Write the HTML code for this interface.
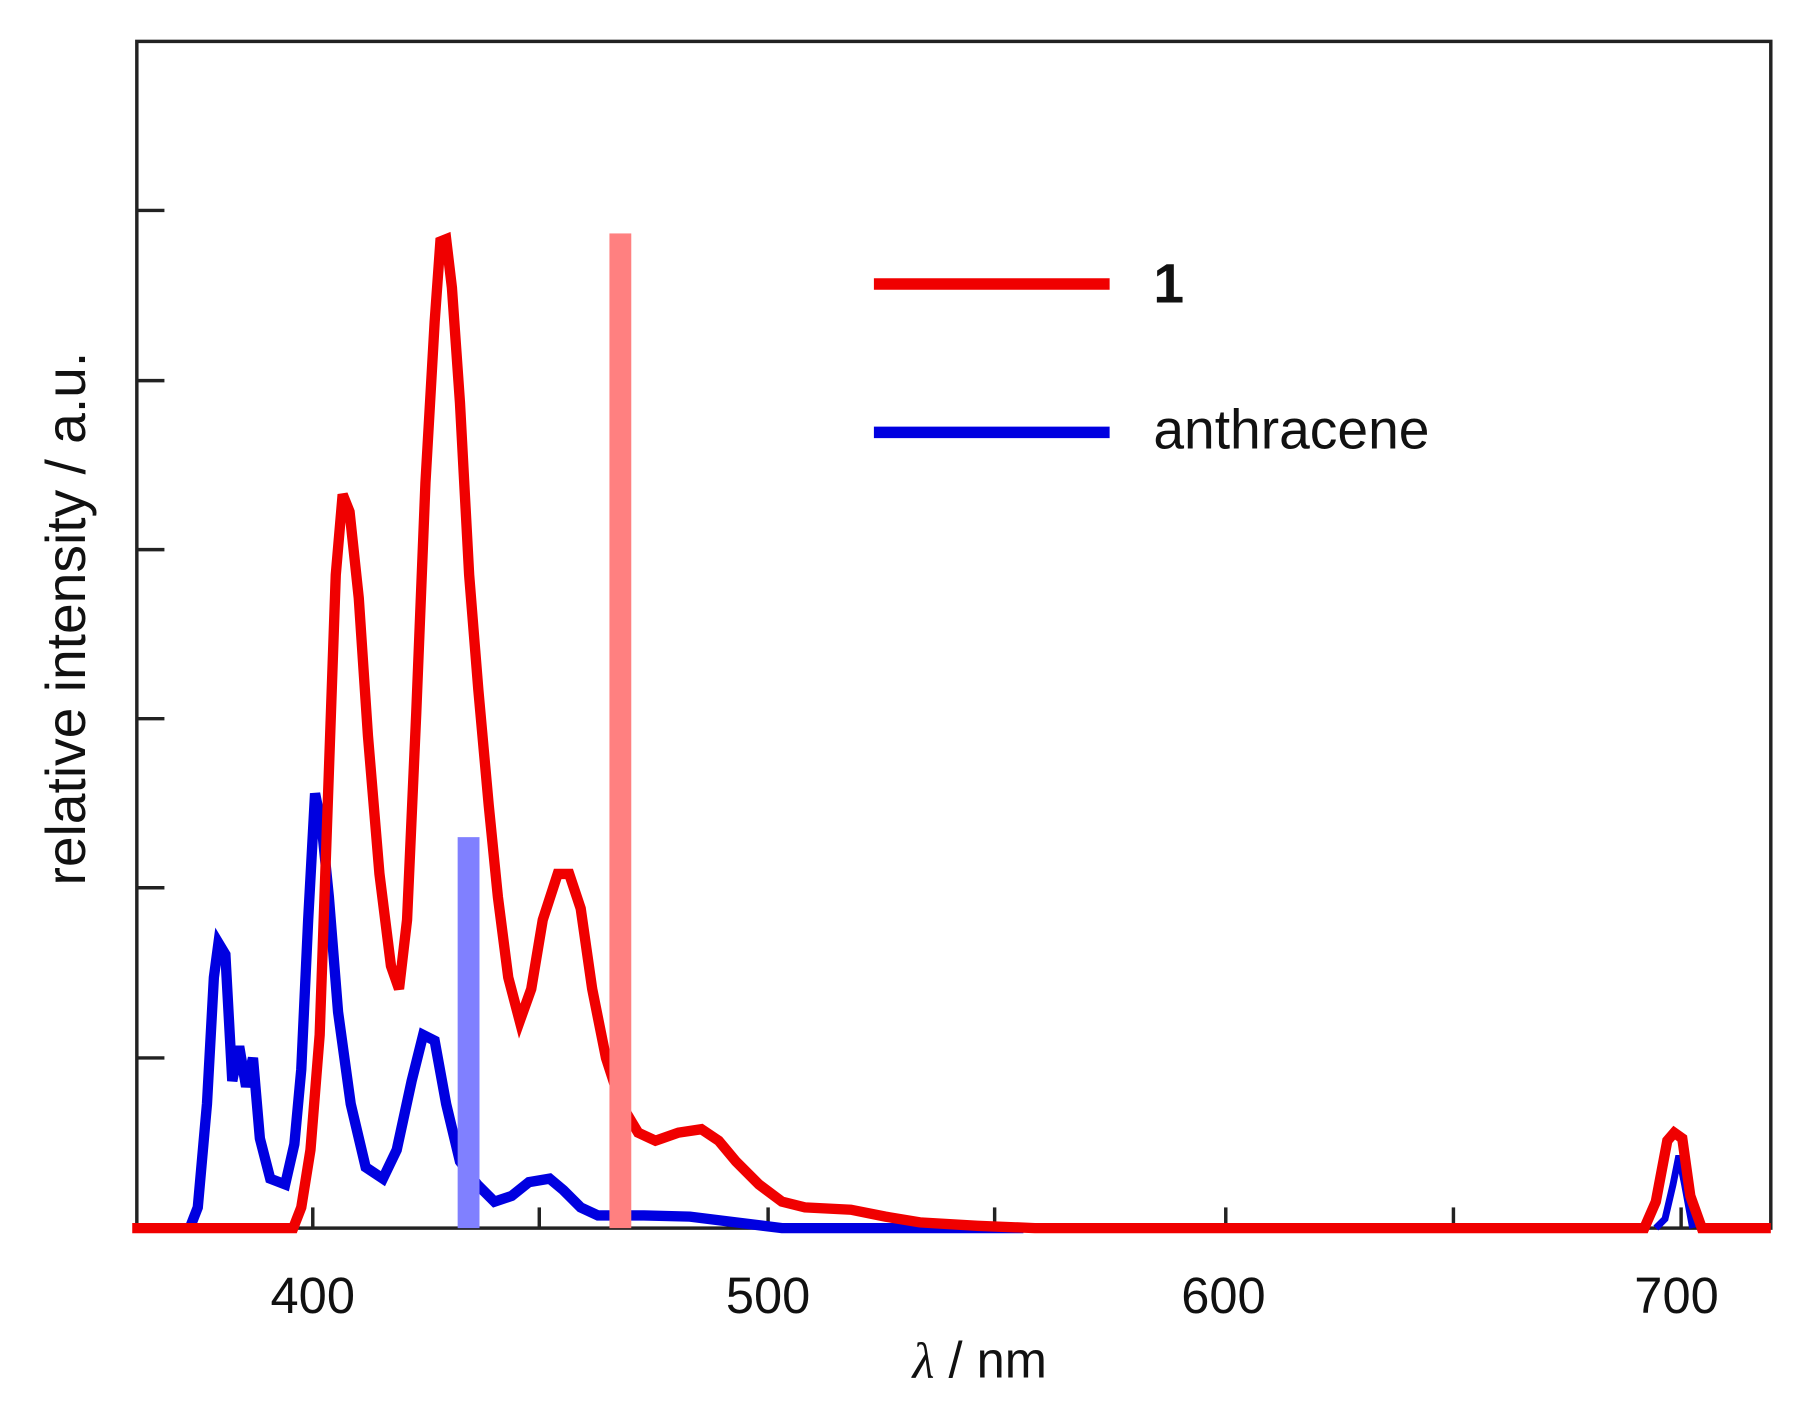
<!DOCTYPE html>
<html><head><meta charset="utf-8"><style>
html,body{margin:0;padding:0;background:#fff;}
svg{display:block;}
</style></head><body>
<svg width="1803" height="1419" viewBox="0 0 1568 1234" preserveAspectRatio="none" xmlns="http://www.w3.org/2000/svg">
<rect width="1568" height="1234" fill="#fff"/>
<rect x="119" y="36" width="1421" height="1032" fill="none" stroke="#222" stroke-width="3"/>
<g stroke="#222" stroke-width="3">
<line x1="119" y1="183" x2="143" y2="183"/><line x1="119" y1="331" x2="143" y2="331"/>
<line x1="119" y1="478" x2="143" y2="478"/><line x1="119" y1="625" x2="143" y2="625"/>
<line x1="119" y1="772" x2="143" y2="772"/><line x1="119" y1="920" x2="143" y2="920"/>
<line x1="272" y1="1068" x2="272" y2="1050"/><line x1="469" y1="1068" x2="469" y2="1050"/>
<line x1="668" y1="1068" x2="668" y2="1050"/><line x1="865" y1="1068" x2="865" y2="1050"/>
<line x1="1066" y1="1068" x2="1066" y2="1050"/><line x1="1264" y1="1068" x2="1264" y2="1050"/>
<line x1="1462" y1="1068" x2="1462" y2="1050"/>
</g>
<polyline fill="none" stroke="#0000e0" stroke-width="9" points="165,1068 172,1050 180,960 186,850 190,820 196,830 202,940 208,910 214,945 220,920 226,990 235,1025 248,1030 256,995 262,930 268,800 274,690 280,720 286,780 294,880 305,960 318,1015 333,1025 345,1000 358,940 368,900 378,905 388,960 400,1010 415,1030 430,1045 445,1040 460,1028 478,1025 490,1035 505,1050 520,1057 560,1057 600,1058 640,1063 680,1068 890,1068"/>
<polyline fill="none" stroke="#0000e0" stroke-width="6" points="1440,1068 1448,1060 1455,1030 1460,1005 1465,1030 1472,1068"/>
<polyline fill="none" stroke="#f00000" stroke-width="9" points="115,1068 255,1068 262,1050 270,1000 278,900 285,700 292,500 298,430 304,445 312,520 320,640 330,760 340,840 347,860 354,800 362,620 370,420 378,280 383,210 388,208 393,250 400,350 408,500 416,600 425,700 433,780 442,850 452,888 462,860 472,800 485,760 495,760 505,790 515,860 527,920 540,960 555,985 570,992 590,985 610,982 625,992 640,1010 660,1030 680,1045 700,1050 740,1052 770,1058 800,1063 850,1066 900,1068 1430,1068 1440,1045 1450,992 1456,985 1463,990 1470,1040 1480,1068 1540,1068"/>
<rect x="530" y="203" width="19" height="865" fill="#ff8080"/>
<rect x="398" y="728" width="19" height="340" fill="#8080ff"/>
<line x1="760" y1="247" x2="965" y2="247" stroke="#f00000" stroke-width="10"/>
<line x1="760" y1="376" x2="965" y2="376" stroke="#0000e0" stroke-width="10"/>
<g font-family="Liberation Sans, sans-serif" fill="#111">
<text x="1003" y="263" font-size="48" font-weight="bold">1</text>
<text x="1003" y="390" font-size="48">anthracene</text>
<text x="272" y="1142" font-size="44" text-anchor="middle">400</text>
<text x="668" y="1142" font-size="44" text-anchor="middle">500</text>
<text x="1064" y="1142" font-size="44" text-anchor="middle">600</text>
<text x="1458" y="1142" font-size="44" text-anchor="middle">700</text>
<text x="852" y="1198" font-size="44" text-anchor="middle"><tspan font-family="Liberation Serif, serif" font-style="italic">λ</tspan> / nm</text>
<text transform="translate(74,538) rotate(-90)" font-size="48" text-anchor="middle">relative intensity / a.u.</text>
</g>
</svg>
</body></html>
